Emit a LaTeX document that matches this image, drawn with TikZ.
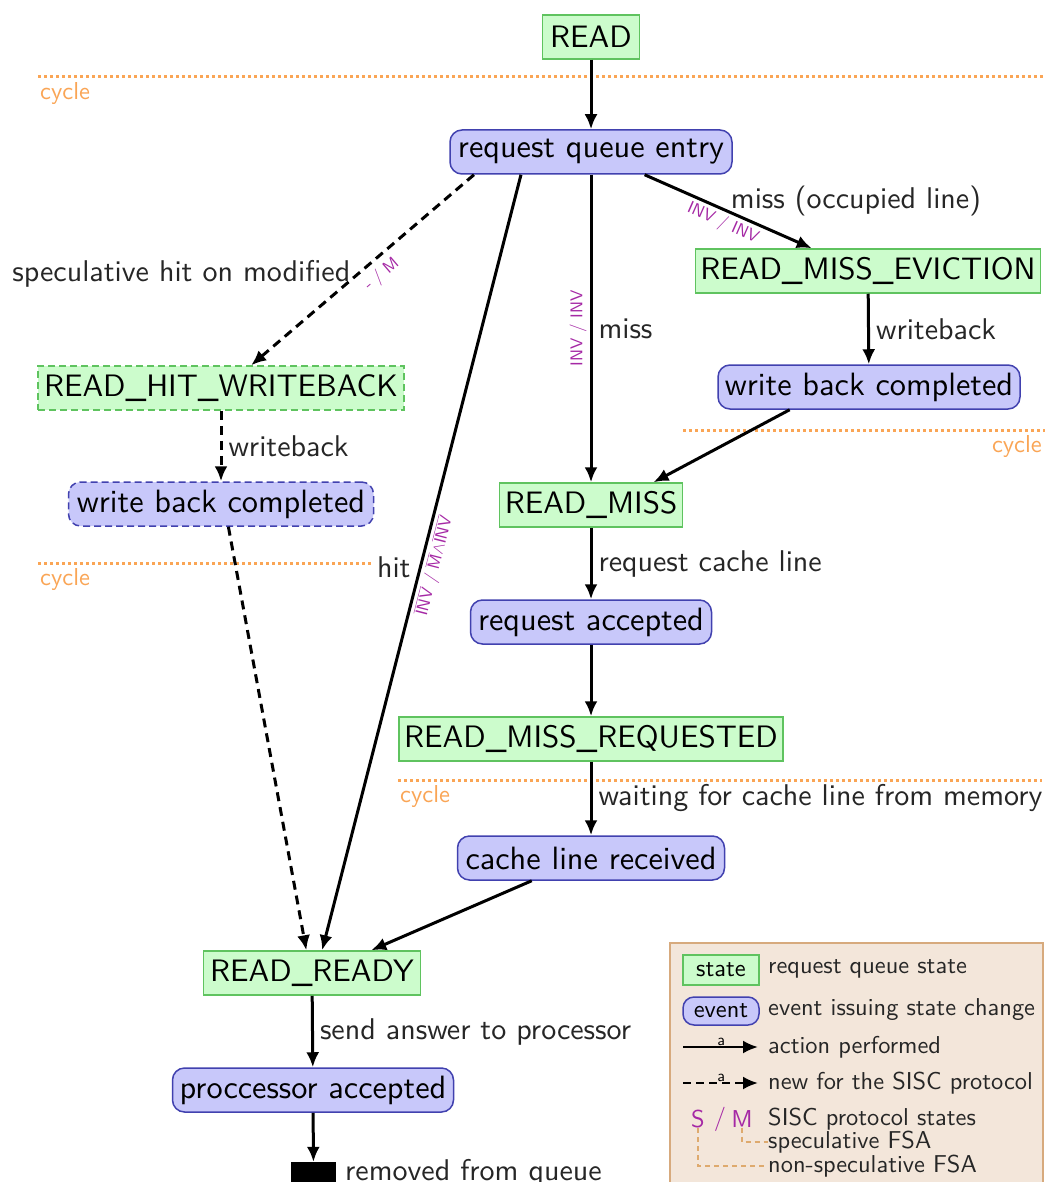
\documentclass[tikz,border=0pt]{standalone}
\usepackage{fontspec}
\setsansfont{lmsans10-regular.otf}
\usetikzlibrary{arrows.meta,calc}
\definecolor{stfill}{RGB}{204,252,204}
\definecolor{stdraw}{RGB}{95,195,95}
\definecolor{evfill}{RGB}{200,200,250}
\definecolor{evdraw}{RGB}{65,65,175}
\definecolor{purp}{RGB}{165,40,165}
\definecolor{cyc}{RGB}{250,165,85}
\definecolor{legfill}{RGB}{243,230,218}
\definecolor{legdraw}{RGB}{215,170,125}
\definecolor{fsa}{RGB}{222,170,110}
\newcommand\ovl[1]{$\overline{\hbox{#1}}$}
\tikzset{
  base/.style={line width=1.5pt, minimum height=44, inner xsep=5, inner ysep=0},
  state/.style={base, font=\sffamily\fontsize{31}{33}\selectfont, draw=stdraw, fill=stfill},
  event/.style={base, font=\sffamily\fontsize{32.3}{34}\selectfont, draw=evdraw, fill=evfill, rounded corners=12},
  newstate/.style={state, dash pattern=on 7pt off 4pt},
  newevent/.style={event, dash pattern=on 7pt off 4pt},
  arr/.style={-{Latex[length=15pt,width=13pt]}, line width=3pt},
  newarr/.style={arr, dash pattern=on 9pt off 6pt},
  lbl/.style={font=\sffamily\fontsize{30}{32}\selectfont, text=black!85},
  prp/.style={font=\sffamily\fontsize{17}{18}\selectfont, text=purp, inner sep=3},
  cycline/.style={draw=cyc, line width=3pt, dash pattern=on 3pt off 3pt},
  cyclbl/.style={font=\sffamily\fontsize{24.5}{26}\selectfont, text=cyc, inner sep=2},
  legfont/.style={font=\sffamily\fontsize{24.4}{26}\selectfont},
  legtxt/.style={legfont, text=black!85, anchor=west, inner sep=0},
}
\begin{document}
\begin{tikzpicture}[x=1pt,y=-1pt]
\clip (0,0) rectangle (1051,1182);
\fill[white] (0,0) rectangle (1051,1182);

% cycle lines
\draw[cycline] (38,77) -- (1045,77);
\node[cyclbl, anchor=north west] (c1) at (38,80) {cycle};
\draw[cycline] (683,430) -- (1045,430);
\node[cyclbl, anchor=north east] (c2) at (1044,433) {cycle};
\draw[cycline] (38,563) -- (372,563);
\node[cyclbl, anchor=north west] (c3) at (38,566) {cycle};
\draw[cycline] (398,780) -- (1042,780);
\node[cyclbl, anchor=north west] (c4) at (398,783) {cycle};

% nodes
\node[state, minimum width=97] (read) at (591,37) {READ};
\node[event, minimum width=282] (rqe) at (591,152) {request queue entry};
\node[state, minimum width=343] (rme) at (868,271) {READ\_MISS\_EVICTION};
\node[event, minimum width=302] (wbcr) at (869,387) {write back completed};
\node[newstate, minimum width=366] (rhw) at (221,388) {READ\_HIT\_WRITEBACK};
\node[newevent, minimum width=305] (wbcl) at (221,504) {write back completed};
\node[state, minimum width=183] (rm) at (591,505) {READ\_MISS};
\node[event, minimum width=241] (ra) at (591,622) {request accepted};
\node[state, minimum width=383] (rmr) at (591,739) {READ\_MISS\_REQUESTED};
\node[event, minimum width=267] (clr) at (591,858) {cache line received};
\node[state, minimum width=217] (rr) at (312,973) {READ\_READY};
\node[event, minimum width=281] (pa) at (313,1090) {proccessor accepted};
\node[fill=black, minimum width=45, minimum height=30, inner sep=0] (gone) at (313.5,1177) {};
\node[lbl, anchor=base west, inner sep=0] (gonelbl) at (345,1180) {removed from queue};

% edges
\draw[arr] (read) -- (rqe);
\draw[arr] (rqe.-23) -- (rme.158)
  node[lbl, pos=0.5, anchor=south west, xshift=-2, yshift=-9] {miss (occupied line)}
  node[prp, pos=0.5, sloped, below] {INV / INV};
\draw[newarr] (rqe.191) -- (rhw.37)
  node[lbl, pos=0.52, anchor=east, xshift=-3] {speculative hit on modified}
  node[prp, pos=0.46, sloped, below, inner sep=6] {- / M};
\draw[arr] (rqe.198) -- (rr.66)
  node[lbl, pos=0.506, anchor=east, xshift=-5] {hit}
  node[prp, pos=0.5, sloped, below] {\ovl{INV} / \ovl{M}$\wedge$\ovl{INV}};
\draw[arr] (rqe) -- (rm)
  node[lbl, pos=0.5, right, inner sep=6] {miss}
  node[prp, pos=0.5, rotate=90, anchor=south] {INV / INV};
\draw[arr] (rme) -- (wbcr) node[lbl, pos=0.5, right, inner sep=6] {writeback};
\draw[arr] (wbcr.196) -- (rm.20);
\draw[newarr] (rhw) -- (wbcl) node[lbl, pos=0.5, right, inner sep=6] {writeback};
\draw[newarr] (wbcl.-72) -- (rr.104);
\draw[arr] (rm) -- (ra) node[lbl, pos=0.5, right, inner sep=6] {request cache line};
\draw[arr] (ra) -- (rmr);
\draw[arr] (rmr) -- (clr) node[lbl, pos=0.5, right, inner sep=6] {waiting for cache line from memory};
\draw[arr] (clr.201) -- (rr.21);
\draw[arr] (rr) -- (pa) node[lbl, pos=0.5, right, inner sep=6] {send answer to processor};
\draw[arr] (pa) -- (gone);

% legend
\draw[line width=2pt, draw=legdraw, fill=legfill] (670,943) rectangle (1043,1200);
\node[state, legfont, minimum width=76, minimum height=30] (lstate) at (721,970) {state};
\node[legtxt] (lstatet) at (768,969) {request queue state};
\node[event, legfont, minimum width=76, minimum height=28, rounded corners=11] (levent) at (721,1011) {event};
\node[legtxt] (leventt) at (768,1010) {event issuing state change};
\coordinate (la1) at (683,1047);
\node[legtxt] (lact) at (768,1047) {action performed};
\draw[-{Latex[length=15pt,width=13pt]}, line width=2.5pt, shorten >=10pt] (la1) -- (lact.west)
  node[pos=0.45, above, inner sep=0, font=\sffamily\fontsize{16}{17}\selectfont] {a};
\coordinate (la2) at (683,1083);
\node[legtxt] (lnew) at (768,1083) {new for the SISC protocol};
\draw[-{Latex[length=15pt,width=13pt]}, line width=2.5pt, dash pattern=on 8pt off 5pt, shorten >=10pt] (la2) -- (lnew.west)
  node[pos=0.45, above, inner sep=0, font=\sffamily\fontsize{16}{17}\selectfont] {a};
\node[legtxt, anchor=center, text=purp] (lS) at (698,1119) {S};
\node[legtxt, anchor=center, text=purp] (lsl) at (720,1119) {/};
\node[legtxt, anchor=center, text=purp] (lM) at (742,1119) {M};
\node[legtxt] (lsisc) at (768,1119) {SISC protocol states};
\node[legtxt] (lspec) at (768,1142) {speculative FSA};
\node[legtxt] (lnons) at (768,1166) {non-speculative FSA};
\draw[fsa, line width=1.5pt, dash pattern=on 5pt off 4pt] (lM.south) |- (lspec.west);
\draw[fsa, line width=1.5pt, dash pattern=on 5pt off 4pt] (lS.south) |- (lnons.west);
\end{tikzpicture}
\end{document}
